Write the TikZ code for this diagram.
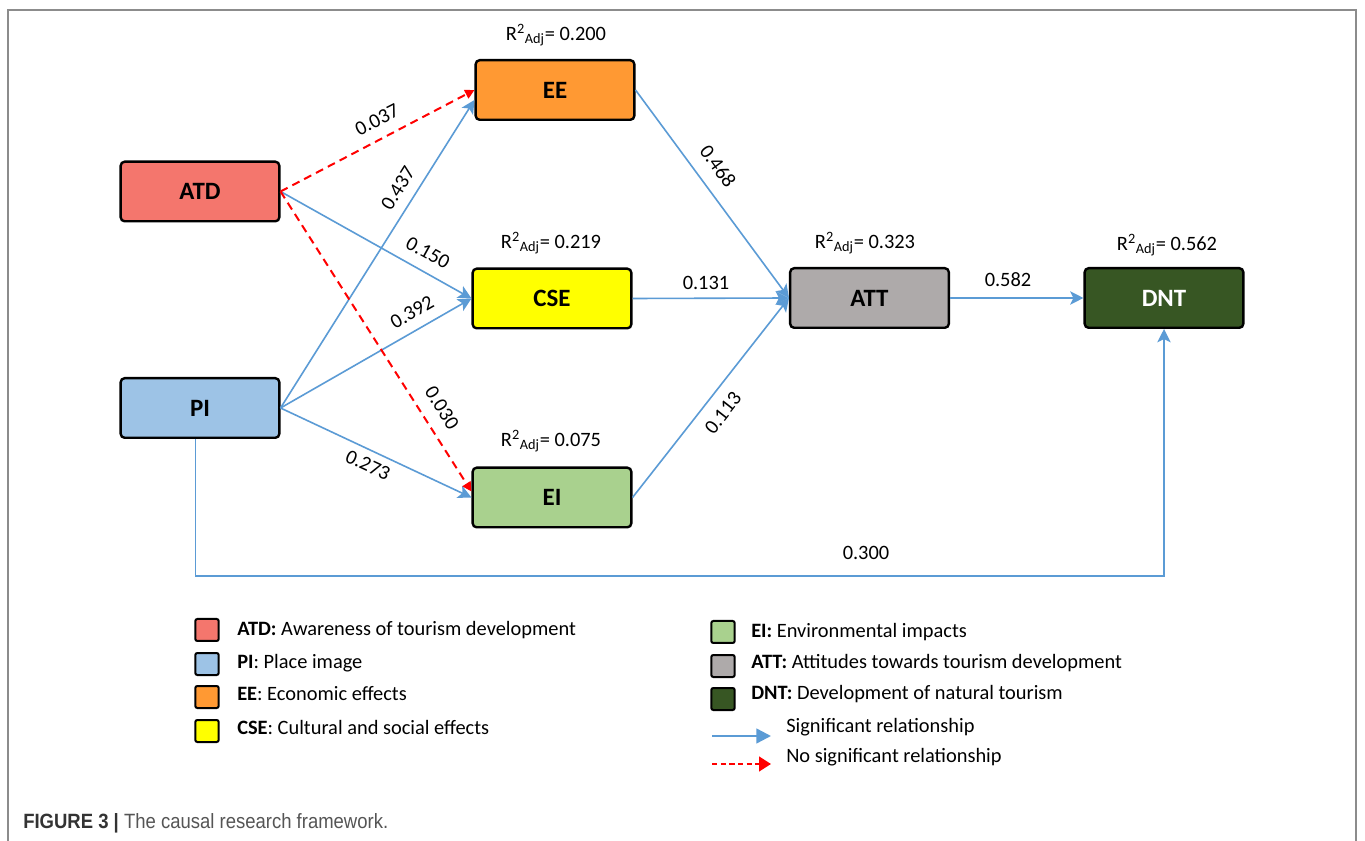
\documentclass[tikz,border=0pt]{standalone}
\usepackage{fontspec}
\setmainfont{Carlito}
\newfontfamily\capfont{Liberation Sans}
\usetikzlibrary{arrows.meta}
\definecolor{cATD}{HTML}{F4766D}
\definecolor{cPI}{HTML}{9DC3E6}
\definecolor{cEE}{HTML}{FF9933}
\definecolor{cCSE}{HTML}{FFFF00}
\definecolor{cEI}{HTML}{A9D18E}
\definecolor{cATT}{HTML}{AEAAAA}
\definecolor{cDNT}{HTML}{375623}
\definecolor{sigblue}{HTML}{5B9BD5}
\definecolor{framegray}{HTML}{8C8C8C}
\definecolor{capgray}{HTML}{555555}
\definecolor{capdark}{HTML}{333333}
\tikzset{
  box/.style={draw=black, line width=1.8pt, rounded corners=3pt,
    minimum width=119pt, minimum height=44.7pt, inner sep=0pt,
    font=\fontsize{18.7}{22}\selectfont\bfseries},
  sig/.style={draw=sigblue, line width=1.2pt,
    -{Stealth[length=10pt,width=10pt,inset=2.5pt]}},
  nsig/.style={draw=red, line width=1.5pt, dash pattern=on 6pt off 4pt,
    -{Triangle[length=7pt,width=7pt]}},
  lbl/.style={font=\fontsize{15.3}{18}\selectfont, inner sep=0pt},
  lsq/.style={draw=black, line width=1.5pt, rounded corners=1.5pt,
    minimum width=17.5pt, minimum height=16.5pt, inner sep=0pt},
  ltxt/.style={font=\fontsize{15.3}{18}\selectfont, inner sep=0pt, anchor=west},
  sigleg/.style={draw=sigblue, line width=1.8pt,
    -{Triangle[length=11pt,width=11pt]}},
  nsigleg/.style={draw=red, line width=1.8pt, dash pattern=on 4pt off 2.5pt,
    -{Triangle[length=9pt,width=11pt]}}
}
\begin{document}
\begin{tikzpicture}[x=0.75pt, y=-0.75pt]
\fill[white] (0,0) rectangle (1365,841);
\useasboundingbox (0,0) rectangle (1365,841);
% frame
\draw[framegray, line width=1.5pt] (8,841) -- (8,10) -- (1356,10) -- (1356,841);

% boxes
\node[box, fill=cATD] (ATD) at (200,191.5) {ATD};
\node[box, fill=cPI]  (PI)  at (200,408) {PI};
\node[box, fill=cEE]  (EE)  at (555,90) {EE};
\node[box, fill=cCSE] (CSE) at (552,298.5) {CSE};
\node[box, fill=cEI]  (EI)  at (552,497.5) {EI};
\node[box, fill=cATT] (ATT) at (869.5,298) {ATT};
\node[box, fill=cDNT, text=white] (DNT) at (1164,298) {DNT};

% R2 labels
\node[lbl] (rEE)  at (556,35)  {R\textsuperscript{2}\textsubscript{Adj}= 0.200};
\node[lbl] (rCSE) at (551,243) {R\textsuperscript{2}\textsubscript{Adj}= 0.219};
\node[lbl] (rEI)  at (551,441) {R\textsuperscript{2}\textsubscript{Adj}= 0.075};
\node[lbl] (rATT) at (865,243) {R\textsuperscript{2}\textsubscript{Adj}= 0.323};
\node[lbl] (rDNT) at (1167,245) {R\textsuperscript{2}\textsubscript{Adj}= 0.562};

% connectors
\draw[sig] (ATD.east) -- (CSE.west);
\draw[sig] (PI.east) -- ([yshift=-7.5pt]EE.west);
\draw[sig] (PI.east) -- (CSE.west);
\draw[sig] (PI.east) -- (EI.west);
\draw[nsig] (ATD.east) -- (EE.west);
\draw[nsig] (ATD.east) -- ([yshift=4.5pt]EI.west);
\draw[sig] (EE.east) -- (ATT.west);
\draw[sig] (CSE.east) -- (ATT.west);
\draw[sig] (EI.east) -- (ATT.west);
\draw[sig] (ATT.east) -- (DNT.west);
\draw[sig] ([xshift=-3.5pt]PI.south) -- ++(0,137) -| (DNT.south);

% path coefficients
\node[lbl, rotate=27]  (c1) at (377,120) {0.037};
\node[lbl, rotate=58]  (c2) at (398,188) {0.437};
\node[lbl, rotate=-29] (c3) at (428,253) {0.150};
\node[lbl, rotate=29.6] (c4) at (412,312) {0.392};
\node[lbl, rotate=-58] (c5) at (442,408) {0.030};
\node[lbl, rotate=-25] (c6) at (368,465) {0.273};
\node[lbl, rotate=-54] (c7) at (718,166) {0.468};
\node[lbl] (c8) at (706,283) {0.131};
\node[lbl, rotate=52]  (c9) at (723,413) {0.113};
\node[lbl] (c10) at (1008,280) {0.582};
\node[lbl] (c11) at (866,553) {0.300};

% legend left
\node[lsq, fill=cATD] (qATD) at (207,630) {};
\node[lsq, fill=cPI]  (qPI)  at (207,664) {};
\node[lsq, fill=cEE]  (qEE)  at (207,697) {};
\node[lsq, fill=cCSE] (qCSE) at (207,731) {};
\node[ltxt] (tATD) at (237,630) {\textbf{ATD:} Awareness of tourism development};
\node[ltxt] (tPI)  at (237,663) {\textbf{PI}: Place image};
\node[ltxt] (tEE)  at (237,694) {\textbf{EE}: Economic effects};
\node[ltxt] (tCSE) at (237,727) {\textbf{CSE}: Cultural and social effects};
% legend right
\node[lsq, fill=cEI]  (qEI)  at (723,632) {};
\node[lsq, fill=cATT] (qATT) at (723,666) {};
\node[lsq, fill=cDNT] (qDNT) at (723,699) {};
\node[ltxt] (tEI)  at (751,632) {\textbf{EI:} Environmental impacts};
\node[ltxt] (tATT) at (751,663) {\textbf{ATT:} Attitudes towards tourism development};
\node[ltxt] (tDNT) at (751,694) {\textbf{DNT:} Development of natural tourism};
\coordinate (s1) at (712,736);
\coordinate (s2) at (771,736);
\draw[sigleg] (s1) -- (s2);
\coordinate (n1) at (712,764);
\coordinate (n2) at (771,764);
\draw[nsigleg] (n1) -- (n2);
\node[ltxt] (tSig)  at (786,727) {Significant relationship};
\node[ltxt] (tNSig) at (786,757) {No significant relationship};

% caption
\node[anchor=west, inner sep=0pt, text=capgray,
  font=\capfont\fontsize{15.5}{18}\selectfont] (cap) at (23,823)
  {\scalebox{0.895}[1]{\textcolor{capdark}{\textbf{FIGURE 3 |}} The causal research framework.}};
\end{tikzpicture}
\end{document}
